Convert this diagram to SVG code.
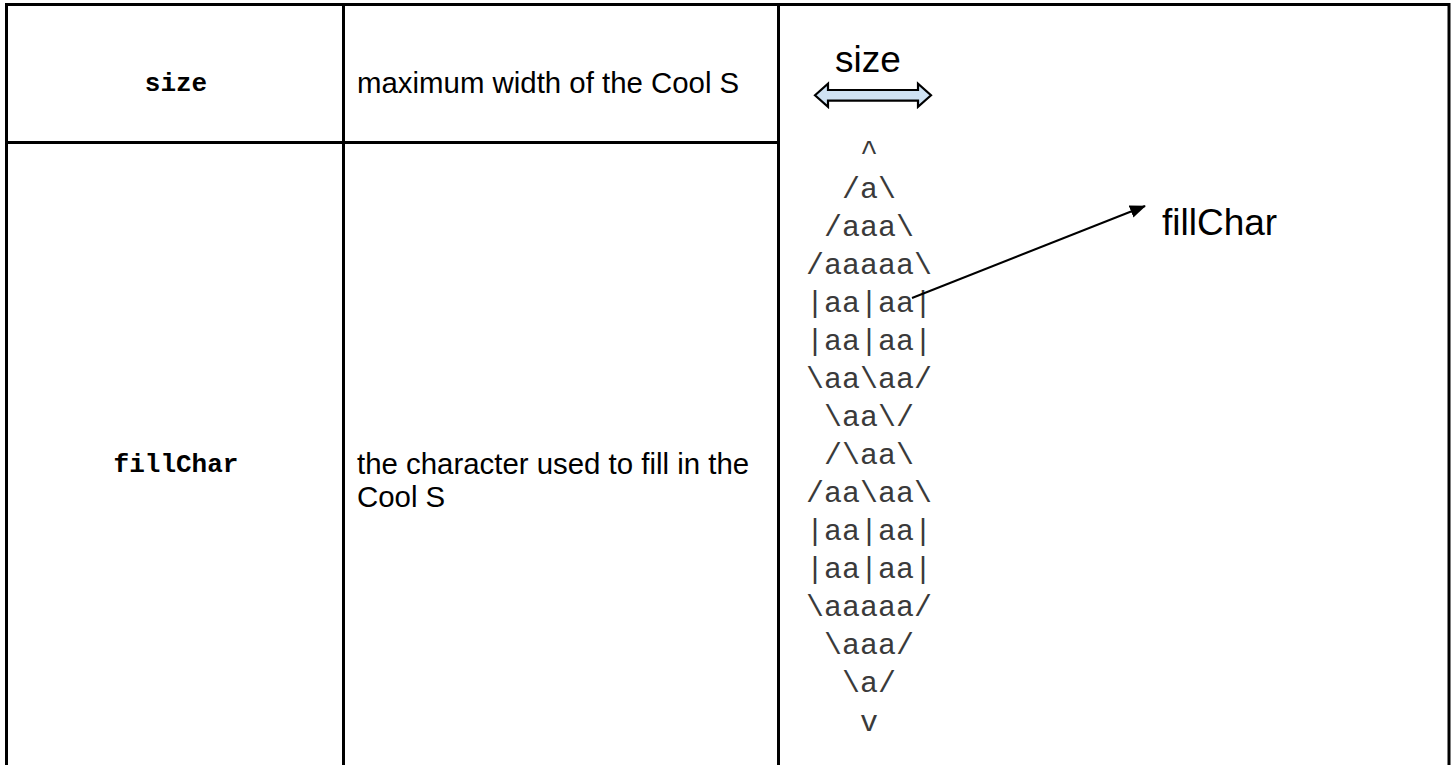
<svg xmlns="http://www.w3.org/2000/svg" width="1455" height="765" viewBox="0 0 1455 765">
  <style>
    .grid { stroke: #000; stroke-width: 3; fill: none; }
    .param { font-family: "Liberation Mono", "Courier New", monospace; font-weight: bold; font-size: 26px; fill: #000; text-anchor: middle; }
    .desc { font-family: "Liberation Sans", Arial, sans-serif; font-size: 29.4px; fill: #000; }
    .label { font-family: "Liberation Sans", Arial, sans-serif; font-size: 37px; fill: #000; }
    .art { font-family: "Liberation Mono", "Courier New", monospace; font-size: 30px; fill: #3a3a3a; text-anchor: middle; }
    .connector { stroke: #000; stroke-width: 2; fill: none; }
  </style>
  <defs>
    <marker id="arrowhead" markerWidth="16" markerHeight="13" refX="15" refY="6.5" orient="auto" markerUnits="userSpaceOnUse" viewBox="0 0 16 13">
      <path d="M0,0 L16,6.5 L0,13 Z" fill="#000"/>
    </marker>
  </defs>

  <rect width="1455" height="765" fill="#fff"/>

  <!-- table grid: open at the bottom -->
  <g id="table-grid" class="grid">
    <path d="M6.5,765 V4.5 H1449 V765"/>
    <line x1="343.5" y1="4.5" x2="343.5" y2="765"/>
    <line x1="778.5" y1="4.5" x2="778.5" y2="765"/>
    <line x1="6.5" y1="142.5" x2="778.5" y2="142.5"/>
  </g>

  <g id="row-size">
    <text class="param" x="176" y="91">size</text>
    <text class="desc" x="357" y="93">maximum width of the Cool S</text>
  </g>

  <g id="row-fillchar">
    <text class="param" x="176" y="472">fillChar</text>
    <text class="desc" x="357" y="474">the character used to fill in the</text>
    <text class="desc" x="357" y="507">Cool S</text>
  </g>

  <!-- width indicator above the shape -->
  <g id="size-indicator">
    <text class="label" x="868" y="72" text-anchor="middle">size</text>
    <polygon points="815,95.3 828,83.8 828,90 918,90 918,83.8 931,95.3 918,106.8 918,100.6 828,100.6 828,106.8" fill="#cfe2f3" stroke="#000" stroke-width="2.2" stroke-linejoin="miter"/>
  </g>

  <!-- the Cool S drawn in characters -->
  <g id="cool-s">
    <text class="art" x="869" y="160">^</text>
    <text class="art" x="869" y="198">/a\</text>
    <text class="art" x="869" y="236">/aaa\</text>
    <text class="art" x="869" y="274">/aaaaa\</text>
    <text class="art" x="869" y="312">|aa|aa|</text>
    <text class="art" x="869" y="350">|aa|aa|</text>
    <text class="art" x="869" y="388">\aa\aa/</text>
    <text class="art" x="869" y="426">\aa\/</text>
    <text class="art" x="869" y="464">/\aa\</text>
    <text class="art" x="869" y="502">/aa\aa\</text>
    <text class="art" x="869" y="540">|aa|aa|</text>
    <text class="art" x="869" y="578">|aa|aa|</text>
    <text class="art" x="869" y="616">\aaaaa/</text>
    <text class="art" x="869" y="654">\aaa/</text>
    <text class="art" x="869" y="692">\a/</text>
    <text class="art" x="869" y="731">v</text>
  </g>

  <g id="fillchar-label">
    <text class="label" x="1162" y="235">fillChar</text>
  </g>

  <g id="connectors">
    <line class="connector" x1="912" y1="298" x2="1145" y2="206" marker-end="url(#arrowhead)"/>
  </g>
</svg>
